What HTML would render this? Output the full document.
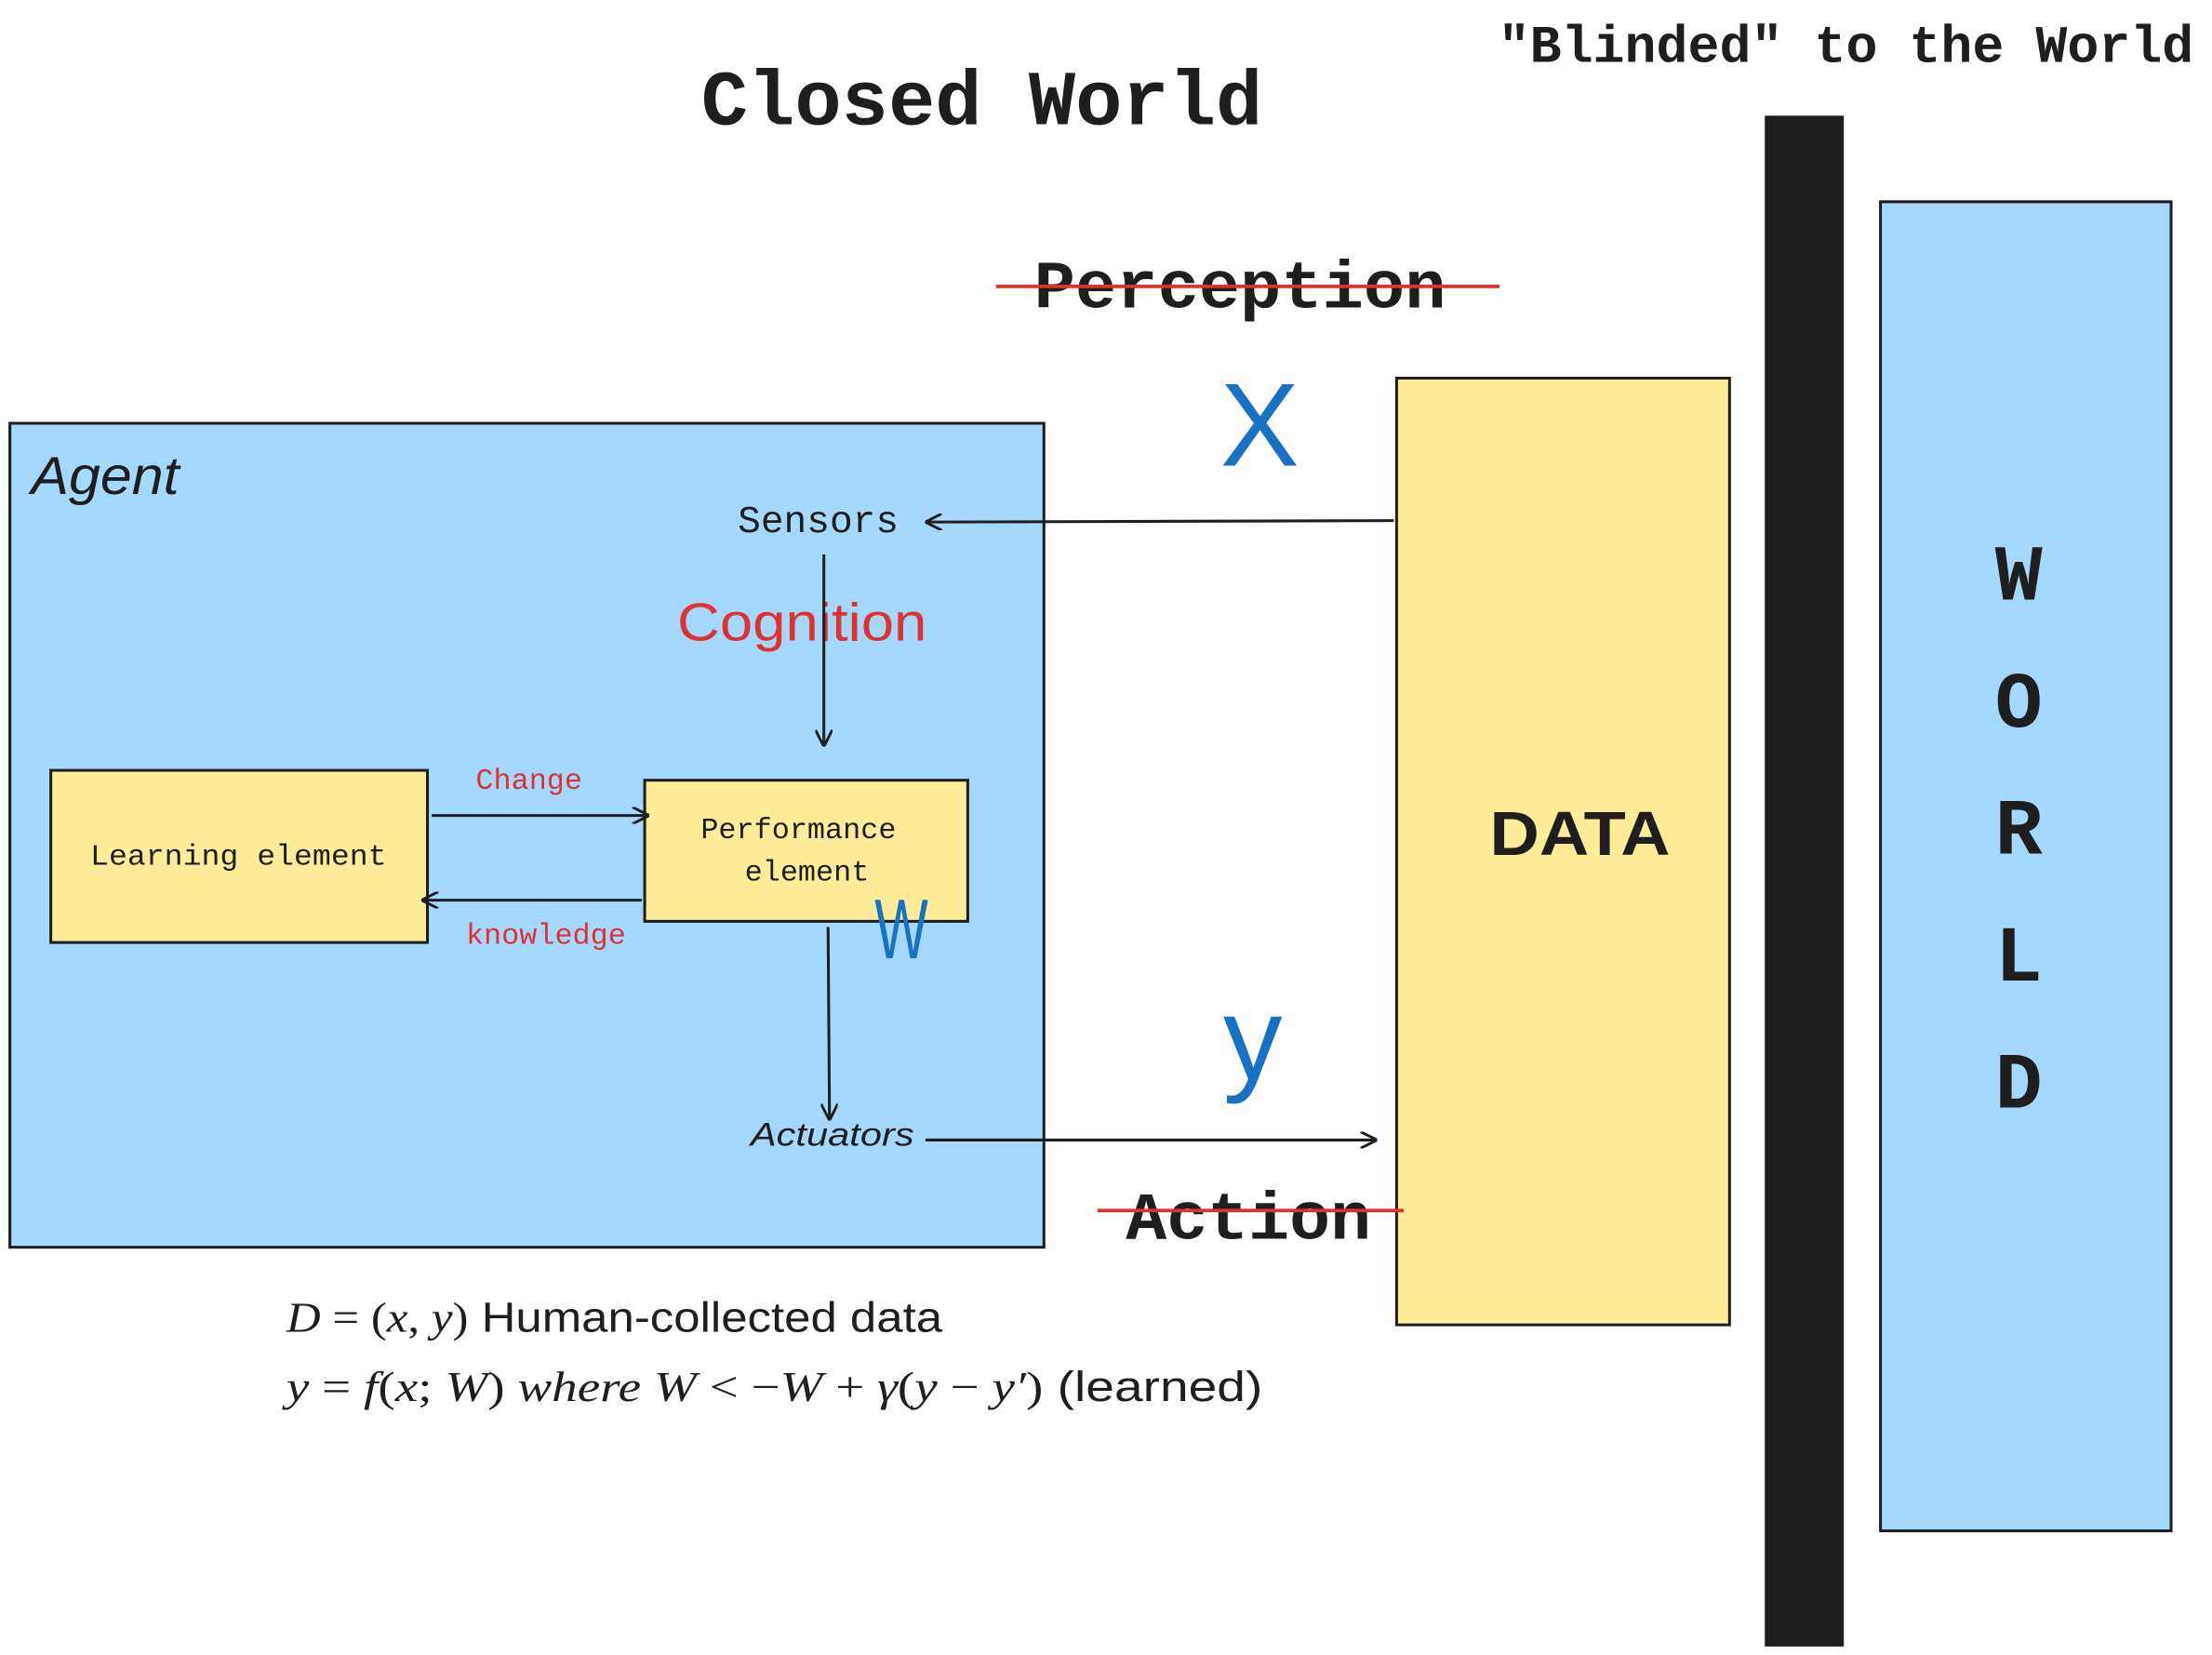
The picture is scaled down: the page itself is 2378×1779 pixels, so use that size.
<!DOCTYPE html>
<html><head><meta charset="utf-8"><style>html,body{margin:0;padding:0;background:#fff}svg{display:block}</style></head>
<body>
<svg xmlns="http://www.w3.org/2000/svg" width="2378" height="1779" viewBox="0 0 1568 1173" preserveAspectRatio="none">
<defs>
<marker id="ah" viewBox="0 0 10 10" refX="9" refY="5" markerWidth="12" markerHeight="12" orient="auto-start-reverse" markerUnits="userSpaceOnUse">
<path d="M0,0 L10,5 L0,10" fill="none" stroke="#1e1e1e" stroke-width="1.6"/>
</marker>
</defs>
<rect width="1568" height="1173" fill="#fff"/>
<g font-family="'Liberation Mono', monospace" fill="#1e1e1e" font-weight="bold">
<text x="497" y="88" font-size="55" textLength="398" lengthAdjust="spacingAndGlyphs">Closed World</text>
<text x="1062" y="44" font-size="37" textLength="493" lengthAdjust="spacingAndGlyphs">"Blinded" to the World</text>
</g>
<rect x="1251" y="82" width="56" height="1085" fill="#1e1e1e"/>
<rect x="1333" y="143" width="206" height="942" fill="#a5d8ff" stroke="#1e1e1e" stroke-width="2"/>
<g font-family="'Liberation Mono', monospace" font-size="56" font-weight="bold" fill="#1e1e1e" text-anchor="middle">
<text x="1431" y="425">W</text><text x="1431" y="515">O</text><text x="1431" y="605">R</text><text x="1431" y="695">L</text><text x="1431" y="785">D</text>
</g>
<rect x="990" y="268" width="236" height="671" fill="#ffec99" stroke="#1e1e1e" stroke-width="2"/>
<text x="1056" y="606" font-family="'Liberation Sans', sans-serif" font-size="44" font-weight="bold" fill="#1e1e1e" textLength="128" lengthAdjust="spacingAndGlyphs">DATA</text>
<text x="733" y="218" font-family="'Liberation Mono', monospace" font-size="48" font-weight="bold" fill="#1e1e1e" textLength="292" lengthAdjust="spacingAndGlyphs">Perception</text>
<line x1="706" y1="203" x2="1063" y2="203" stroke="#e03131" stroke-width="2.5"/>
<text x="893" y="330" font-family="'Liberation Sans', sans-serif" font-size="84" text-anchor="middle" fill="#1971c2">X</text>
<text x="888" y="765" font-family="'Liberation Sans', sans-serif" font-size="84" text-anchor="middle" fill="#1971c2">y</text>
<text x="798" y="878" font-family="'Liberation Mono', monospace" font-size="48" font-weight="bold" fill="#1e1e1e" textLength="174" lengthAdjust="spacingAndGlyphs">Action</text>
<line x1="778" y1="858" x2="995" y2="858" stroke="#e03131" stroke-width="2.5"/>
<rect x="7" y="300" width="733" height="584" fill="#a5d8ff" stroke="#1e1e1e" stroke-width="2"/>
<text x="22" y="350" font-family="'Liberation Sans', sans-serif" font-size="38" font-style="italic" fill="#1e1e1e" textLength="105" lengthAdjust="spacingAndGlyphs">Agent</text>
<text x="523" y="377" font-family="'Liberation Mono', monospace" font-size="27" fill="#1e1e1e" textLength="114" lengthAdjust="spacingAndGlyphs">Sensors</text>
<line x1="988" y1="369" x2="657" y2="370" stroke="#1e1e1e" stroke-width="2" marker-end="url(#ah)"/>
<text x="480" y="454" font-family="'Liberation Sans', sans-serif" font-size="38" fill="#e03131" textLength="177" lengthAdjust="spacingAndGlyphs">Cognition</text>
<line x1="584" y1="393" x2="584" y2="528" stroke="#1e1e1e" stroke-width="2" marker-end="url(#ah)"/>
<rect x="36" y="546" width="267" height="122" fill="#ffec99" stroke="#1e1e1e" stroke-width="2"/>
<text x="64" y="613" font-family="'Liberation Mono', monospace" font-size="21" fill="#1e1e1e" textLength="210" lengthAdjust="spacingAndGlyphs">Learning element</text>
<rect x="457" y="553" width="229" height="100" fill="#ffec99" stroke="#1e1e1e" stroke-width="2"/>
<text x="566" y="594" font-family="'Liberation Mono', monospace" font-size="21" text-anchor="middle" fill="#1e1e1e">Performance</text>
<text x="572" y="624" font-family="'Liberation Mono', monospace" font-size="21" text-anchor="middle" fill="#1e1e1e">element</text>
<text x="375" y="559" font-family="'Liberation Mono', monospace" font-size="21" text-anchor="middle" fill="#e03131">Change</text>
<line x1="306" y1="578" x2="459" y2="578" stroke="#1e1e1e" stroke-width="2" marker-end="url(#ah)"/>
<text x="387" y="669" font-family="'Liberation Mono', monospace" font-size="21" text-anchor="middle" fill="#e03131">knowledge</text>
<line x1="455" y1="638" x2="300" y2="638" stroke="#1e1e1e" stroke-width="2" marker-end="url(#ah)"/>
<text x="639" y="679" font-family="'Liberation Sans', sans-serif" font-size="60" text-anchor="middle" fill="#1971c2" textLength="38" lengthAdjust="spacingAndGlyphs">W</text>
<line x1="587" y1="657" x2="588" y2="793" stroke="#1e1e1e" stroke-width="2" marker-end="url(#ah)"/>
<text x="532" y="812" font-family="'Liberation Sans', sans-serif" font-size="23" font-style="italic" fill="#1e1e1e" textLength="116" lengthAdjust="spacingAndGlyphs">Actuators</text>
<line x1="656" y1="808" x2="975" y2="808" stroke="#1e1e1e" stroke-width="2" marker-end="url(#ah)"/>
<g font-size="30" fill="#1e1e1e">
<text x="203" y="944" textLength="465" lengthAdjust="spacingAndGlyphs"><tspan font-family="'Liberation Serif', serif" font-style="italic">D</tspan><tspan font-family="'Liberation Serif', serif"> = (</tspan><tspan font-family="'Liberation Serif', serif" font-style="italic">x</tspan><tspan font-family="'Liberation Serif', serif">, </tspan><tspan font-family="'Liberation Serif', serif" font-style="italic">y</tspan><tspan font-family="'Liberation Serif', serif">)</tspan><tspan font-family="'Liberation Sans', sans-serif"> Human-collected data</tspan></text>
<text x="203" y="993" textLength="692" lengthAdjust="spacingAndGlyphs"><tspan font-family="'Liberation Serif', serif" font-style="italic">y</tspan><tspan font-family="'Liberation Serif', serif"> = </tspan><tspan font-family="'Liberation Serif', serif" font-style="italic">f</tspan><tspan font-family="'Liberation Serif', serif">(</tspan><tspan font-family="'Liberation Serif', serif" font-style="italic">x</tspan><tspan font-family="'Liberation Serif', serif">; </tspan><tspan font-family="'Liberation Serif', serif" font-style="italic">W</tspan><tspan font-family="'Liberation Serif', serif">) </tspan><tspan font-family="'Liberation Serif', serif" font-style="italic">where W</tspan><tspan font-family="'Liberation Serif', serif"> &lt; −</tspan><tspan font-family="'Liberation Serif', serif" font-style="italic">W</tspan><tspan font-family="'Liberation Serif', serif"> + </tspan><tspan font-family="'Liberation Serif', serif" font-style="italic">γ</tspan><tspan font-family="'Liberation Serif', serif">(</tspan><tspan font-family="'Liberation Serif', serif" font-style="italic">y</tspan><tspan font-family="'Liberation Serif', serif"> − </tspan><tspan font-family="'Liberation Serif', serif" font-style="italic">y′</tspan><tspan font-family="'Liberation Serif', serif">)</tspan><tspan font-family="'Liberation Sans', sans-serif"> (learned)</tspan></text>
</g>
</svg>
</body></html>
